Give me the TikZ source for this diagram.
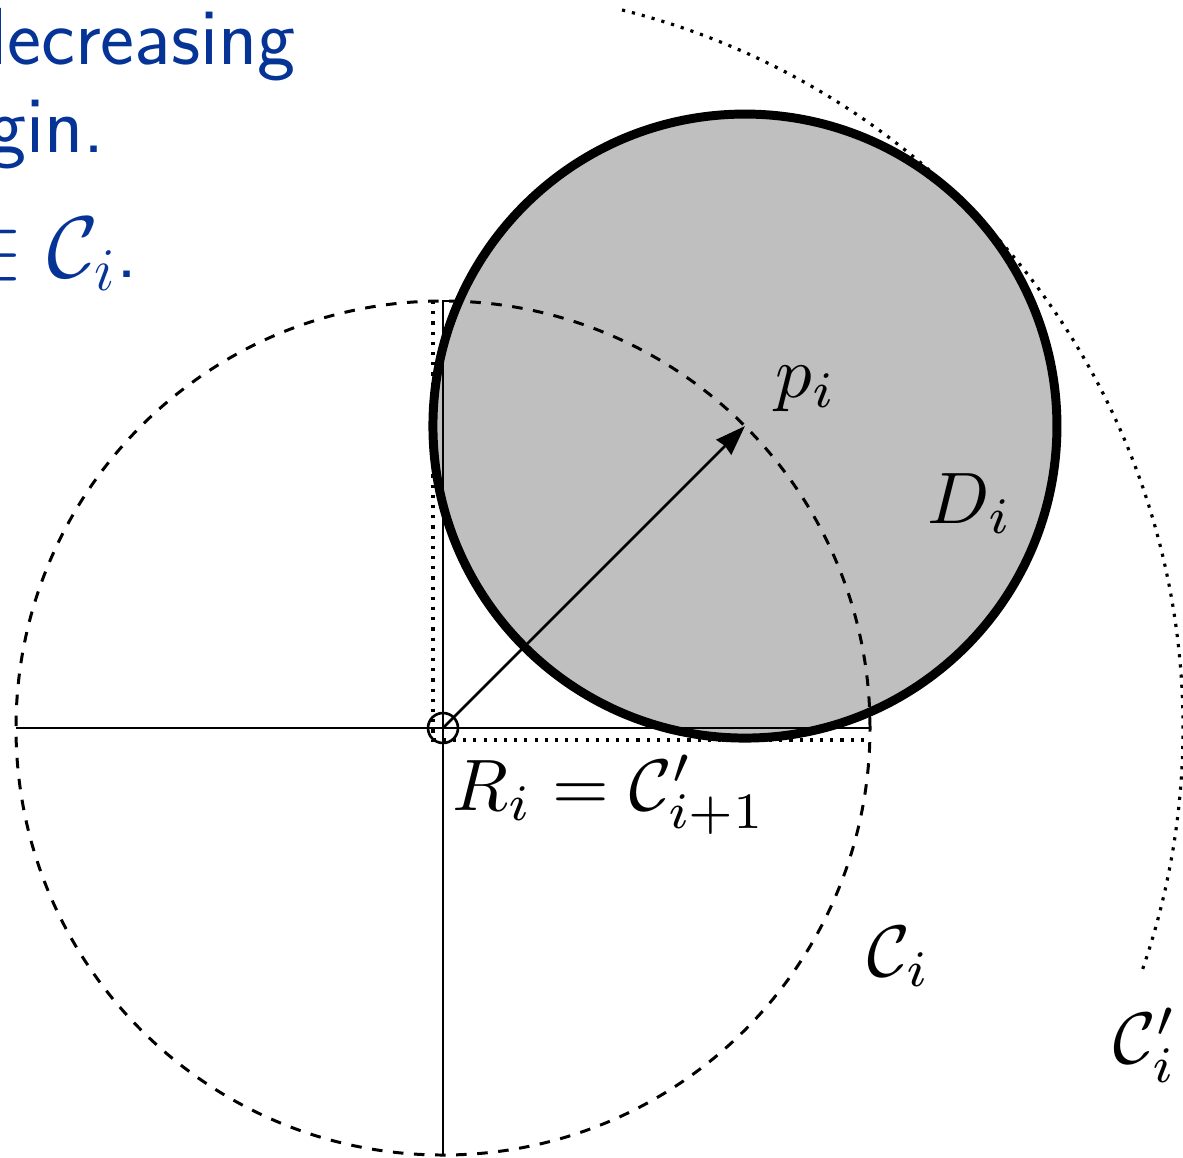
\documentclass[tikz,border=0pt]{standalone}
\usepackage{amsmath,amssymb}
\usepackage{tikz}
\usetikzlibrary{arrows.meta,positioning}
\definecolor{slideblue}{RGB}{5,52,150}

\begin{document}
\begin{tikzpicture}[x=0.01cm, y=0.01cm, line width=0.75pt,
  >={Stealth[length=8.5pt,width=6pt,inset=0.5pt]},
  lbl/.style={anchor=base west, inner sep=0pt, font=\normalsize, scale=2.074},
  slide/.style={anchor=base west, inner sep=0pt, text=slideblue, font=\fontsize{23}{27}\selectfont\sffamily}]
\useasboundingbox (-443,-429) rectangle (740,728);
\clip (-443,-429) rectangle (740,728);

\coordinate (p) at (45:427);

% R_i and the disk D_i
\draw (0,0) rectangle (427,427);
\draw[fill=black!25, line width=2.55pt] (p) circle[radius=312];

% axes, C_i and C'_i
\draw (-427,0) -- (427,0);
\draw (0,427) -- (0,-427);
\draw[dashed, line width=0.85pt] (0,0) circle[radius=427];
\draw[dotted, line width=0.9pt] (76:740) arc[start angle=76, end angle=-19, radius=740];
\draw[dotted, line width=0.9pt] (-10,427) -- (-10,-12) -- (427,-12);

\node (O) [circle, draw, inner sep=0pt, minimum size=0.3cm] at (0,0) {};
\draw[->] (O.center) -- (p);

\node (pl) [lbl] at (330,331) {$p_i$};
\node (D) [lbl] at (482,205) {$D_i$};
\node (R) [lbl] at (7,-82) {$R_i = \mathcal{C}'_{i+1}$};
\node (C) [lbl] at (422,-248) {$\mathcal{C}_i$};
\node (Cp) [lbl] at (668,-335) {$\mathcal{C}'_i$};

% slide text cut by the frame
\node (t1) [slide] at (-476,663) {decreasing};
\node (t2) [slide] at (-456,575) {gin.};
\node (t3) [slide] at (-479,451) {$\in \mathcal{C}_i$.};
\end{tikzpicture}
\end{document}
